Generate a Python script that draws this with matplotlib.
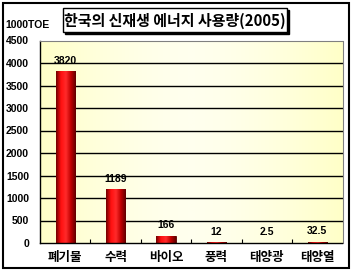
#!/usr/bin/python3

import matplotlib
matplotlib.use("Agg")
import matplotlib.pyplot as plt
from matplotlib.patches import Rectangle
import numpy as np

categories = ["폐기물", "수력", "바이오", "풍력", "태양광", "태양열"]
values = [3820, 1189, 166, 12, 2.5, 32.5]
value_labels = ["3820", "1189", "166", "12", "2.5", "32.5"]
yticks = [0, 500, 1000, 1500, 2000, 2500, 3000, 3500, 4000, 4500]

plt.rcParams['font.family'] = ['Noto Sans CJK KR', 'DejaVu Sans']

W, H = 353, 275
fig = plt.figure(figsize=(W / 100, H / 100), dpi=100)
fig.patch.set_facecolor("white")

# outer frame of the chart
fig.patches.append(Rectangle((3 / W, 1 - 268 / H), 346 / W, 265 / H,
                             transform=fig.transFigure, fill=False,
                             edgecolor="black", linewidth=1.5))

ax = fig.add_axes([40 / W, 1 - 243 / H, 302.5 / W, 202.5 / H])
ax.set_xlim(-0.5, len(categories) - 0.5)
ax.set_ylim(0, 4500)

# light yellow plot background, lighter in the middle
bg = np.abs(np.linspace(-1, 1, 200)) ** 1.5
bg = np.vstack([bg, bg])
ax.imshow(bg, extent=[0, 1, 0, 1], transform=ax.transAxes, aspect="auto",
          cmap=matplotlib.colors.LinearSegmentedColormap.from_list(
              "yl", ["#FFFFEE", "#FFFFC8"]), zorder=0)

for y in yticks[1:-1]:
    ax.axhline(y, color="black", linewidth=1.0, zorder=1)

bars = ax.bar(range(len(categories)), values, width=0.38, color="#E00000",
              edgecolor="#500000", linewidth=0.6, zorder=2)

# cylinder-like red shading on each bar
red = matplotlib.colors.LinearSegmentedColormap.from_list(
    "rd", ["#700000", "#FF1010", "#FF2A2A", "#C00000", "#600000"])
grad = np.linspace(0, 1, 100).reshape(1, -1)
for b in bars:
    x0, w, h = b.get_x(), b.get_width(), b.get_height()
    im = ax.imshow(grad, extent=[x0, x0 + w, 0, h], aspect="auto", cmap=red,
                   zorder=2.5)
    im.set_clip_path(b)

for i, b in enumerate(bars):
    ax.annotate(value_labels[i], (b.get_x() + b.get_width() / 2, b.get_height()),
                xytext=(0, 4), textcoords="offset points", ha="center",
                va="bottom", fontsize=7.5, fontweight="bold",
                family="Liberation Sans")

ax.set_xlim(-0.5, len(categories) - 0.5)
ax.set_ylim(0, 4500)
ax.set_yticks(yticks)
ax.set_yticklabels([str(t) for t in yticks], fontsize=7.5, fontweight="bold",
                   family="Liberation Sans")
ax.tick_params(axis="y", length=0, pad=8)
ax.set_xticks(range(len(categories)))
ax.set_xticklabels(categories, fontsize=9, fontweight="bold")
ax.tick_params(axis="x", length=0, pad=6)
ax.set_xticks(np.arange(0.5, len(categories) - 0.5), minor=True)
ax.tick_params(axis="x", which="minor", direction="in", length=3, width=0.8)

ax.spines["top"].set_color("#808080")
ax.spines["right"].set_color("#808080")
for s in ["left", "bottom"]:
    ax.spines[s].set_color("black")
    ax.spines[s].set_linewidth(1.0)

fig.text(5 / W, 1 - 25 / H, "1000TOE", fontsize=7.5, fontweight="bold",
         family="Liberation Sans", va="center", ha="left")

# title box with drop shadow
fig.patches.append(Rectangle((65 / W, 1 - 34 / H), 224 / W, 24 / H,
                             transform=fig.transFigure, facecolor="black",
                             edgecolor="black", zorder=3))
fig.patches.append(Rectangle((63 / W, 1 - 32 / H), 224 / W, 24 / H,
                             transform=fig.transFigure, facecolor="white",
                             edgecolor="black", linewidth=1.0, zorder=4))
fig.text(175 / W, 1 - 20.5 / H, "한국의 신재생 에너지 사용량(2005)", fontsize=10.8,
         fontweight="bold", ha="center", va="center", zorder=5)

fig.savefig("out.png", dpi=100)
